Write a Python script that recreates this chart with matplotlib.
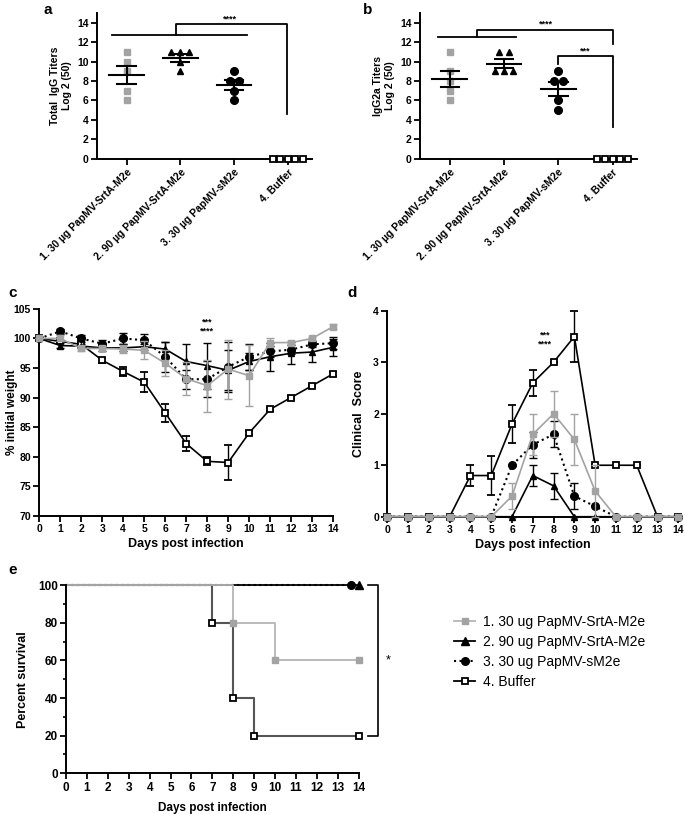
import numpy as np
import matplotlib.pyplot as plt
from matplotlib.lines import Line2D

plt.rcParams['font.family'] = ['Liberation Sans', 'DejaVu Sans']
plt.rcParams['font.weight'] = 'bold'
plt.rcParams['axes.labelweight'] = 'bold'
plt.rcParams['axes.linewidth'] = 1.4

# ---- data ----
groups = ['1. 30 µg PapMV-SrtA-M2e', '2. 90 µg PapMV-SrtA-M2e',
          '3. 30 µg PapMV-sM2e', '4. Buffer']
legend_labels = ['1. 30 ug PapMV-SrtA-M2e', '2. 90 ug PapMV-SrtA-M2e',
                 '3. 30 ug PapMV-sM2e', '4. Buffer']

igg_total = [[11, 10, 9, 7, 6], [11, 11, 11, 10, 9], [9, 8, 8, 7, 6], [0, 0, 0, 0, 0]]
igg2a = [[11, 9, 8, 7, 6], [11, 11, 9, 9, 9], [9, 8, 8, 6, 5], [0, 0, 0, 0, 0]]

days = np.arange(15)
weight_g1 = [100, 100, 98.3, 98.3, 98.2, 98.0, 95.8, 93.2, 92.0, 94.8, 93.7, 99.3, 99.3, 100.0, 102.0]
weight_g1_err = [0, 0.5, 0.4, 0.4, 0.7, 1.5, 2.2, 2.8, 4.4, 5.0, 5.2, 0.8, 0.3, 0.3, 0.4]
weight_g2 = [100, 98.8, 98.7, 98.4, 98.4, 98.6, 98.2, 96.1, 95.4, 94.6, 96.1, 96.9, 97.5, 97.7, 98.5]
weight_g2_err = [0, 0.4, 0.4, 0.6, 0.6, 0.5, 1.2, 3.0, 3.9, 3.4, 1.5, 2.4, 1.9, 1.7, 1.4]
weight_g3 = [100, 101.2, 100.0, 99.1, 100.0, 99.7, 96.9, 93.1, 93.1, 95.2, 96.9, 97.8, 98.1, 99.0, 99.2]
weight_g3_err = [0, 0.4, 0.6, 0.6, 1.0, 1.1, 2.5, 1.6, 3.0, 4.2, 2.2, 1.0, 0.8, 0.5, 1.0]
weight_buf = [100, 99.5, 99.0, 96.3, 94.4, 92.6, 87.4, 82.2, 79.2, 79.0, 84.0, 88.0, 90.0, 92.0, 94.0]
weight_buf_err = [0, 0.3, 0.4, 0.4, 0.8, 1.7, 1.5, 1.3, 0.7, 3.0, 0.3, 0.3, 0.2, 0.2, 0.3]

score_g1 = [0, 0, 0, 0, 0, 0, 0.4, 1.6, 2.0, 1.5, 0.5, 0, 0, 0, 0]
score_g1_err = [0, 0, 0, 0, 0, 0, 0.25, 0.4, 0.45, 0.5, 0.5, 0, 0, 0, 0]
score_g2 = [0, 0, 0, 0, 0, 0, 0, 0.8, 0.6, 0, 0, 0, 0, 0, 0]
score_g2_err = [0, 0, 0, 0, 0, 0, 0, 0.2, 0.25, 0, 0, 0, 0, 0, 0]
score_g3 = [0, 0, 0, 0, 0, 0, 1.0, 1.4, 1.6, 0.4, 0.2, 0, 0, 0, 0]
score_g3_err = [0, 0, 0, 0, 0, 0, 0, 0.25, 0.25, 0.25, 0, 0, 0, 0, 0]
score_buf = [0, 0, 0, 0, 0.8, 0.8, 1.8, 2.6, 3.0, 3.5, 1.0, 1.0, 1.0, 0, 0]
score_buf_err = [0, 0, 0, 0, 0.2, 0.38, 0.37, 0.25, 0, 0.5, 0, 0, 0, 0, 0]

surv_t_g1 = [0, 8, 10, 14]
surv_g1 = [100, 80, 60, 60]
surv_t_g2 = [0, 14]
surv_g2 = [100, 100]
surv_t_g3 = [0, 13.65]
surv_g3 = [100, 100]
surv_t_buf = [0, 7, 8, 9, 14]
surv_buf = [100, 80, 40, 20, 20]

GRAY = '#a3a3a3'
DARK = '#555555'

fig = plt.figure(figsize=(6.85, 8.14), dpi=100)


def style(ax, fs=7.5):
    ax.spines['top'].set_visible(False)
    ax.spines['right'].set_visible(False)
    ax.tick_params(direction='out', length=4, width=1.3, labelsize=fs, pad=2)


def spread(vals, step=0.17):
    vals = np.array(vals, dtype=float)
    off = np.zeros(len(vals))
    for v in np.unique(vals):
        idx = np.where(vals == v)[0]
        off[idx] = (np.arange(len(idx)) - (len(idx) - 1) / 2) * step
    return off


mstyles = [dict(marker='s', color=GRAY, mfc=GRAY, mec=GRAY, ms=5),
           dict(marker='^', color='black', mfc='black', mec='black', ms=5),
           dict(marker='o', color='black', mfc='black', mec='black', ms=5.5),
           dict(marker='s', color='black', mfc='white', mec='black', ms=5, mew=1.3)]


def dotplot(ax, data, ylabel):
    for i, vals in enumerate(data):
        step = 0.14 if i == 3 else 0.17
        x = i + spread(vals, step)
        ax.plot(x, vals, ls='none', clip_on=False, zorder=3, **mstyles[i])
        v = np.array(vals, dtype=float)
        m = v.mean()
        if v.std() > 0:
            sem = v.std(ddof=1) / np.sqrt(len(v))
            ax.plot([i - 0.32, i + 0.32], [m, m], color='black', lw=1.5, zorder=4)
            ax.plot([i, i], [m - sem, m + sem], color='black', lw=1.5, zorder=4)
            for y in (m - sem, m + sem):
                ax.plot([i - 0.17, i + 0.17], [y, y], color='black', lw=1.5, zorder=4)
    ax.set_xlim(-0.55, 3.45)
    ax.set_ylim(0, 15)
    ax.set_yticks(range(0, 15, 2))
    ax.set_xticks(range(4))
    ax.set_xticklabels(groups, rotation=45, ha='right', rotation_mode='anchor')
    ax.set_ylabel(ylabel, fontsize=7.5, labelpad=4)
    style(ax)
    ax.spines['left'].set_bounds(0, 15)


# ---- panel a ----
ax_a = fig.add_axes([0.1416, 0.805, 0.314, 0.179])
dotplot(ax_a, igg_total, 'Total  IgG Titers\nLog 2 (50)')
ax_a.plot([-0.28, 2.24], [12.7, 12.7], color='black', lw=1.3)
ax_a.plot([0.92, 0.92, 2.98, 2.98], [12.7, 13.85, 13.85, 4.65], color='black', lw=1.3)
ax_a.text(1.93, 13.95, '****', ha='center', va='bottom', fontsize=6.5)

# ---- panel b ----
ax_b = fig.add_axes([0.613, 0.805, 0.317, 0.179])
dotplot(ax_b, igg2a, 'IgG2a Titers\nLog 2 (50)')
ax_b.plot([-0.22, 1.22], [12.5, 12.5], color='black', lw=1.3)
ax_b.plot([0.5, 0.5, 3.0, 3.0], [12.5, 13.28, 13.28, 11.85], color='black', lw=1.3)
ax_b.text(1.77, 13.4, '****', ha='center', va='bottom', fontsize=6.5)
ax_b.plot([2.0, 2.0, 3.0, 3.0], [9.8, 10.55, 10.55, 3.25], color='black', lw=1.3)
ax_b.text(2.5, 10.65, '***', ha='center', va='bottom', fontsize=6.5)

fig.text(43 / 685, 1 - 10 / 814, 'a', fontsize=11, ha='left', va='center')
fig.text(363 / 685, 1 - 10 / 814, 'b', fontsize=11, ha='left', va='center')


def series(ax, y, err, i, ls='-', lw=1.2):
    st = dict(mstyles[i])
    col = GRAY if i == 0 else 'black'
    ax.errorbar(days, y, yerr=err, ls=ls, lw=lw, color=col, ecolor=col,
                elinewidth=1.0, capsize=3, capthick=1.0,
                marker=st['marker'], ms=st['ms'], mfc=st['mfc'], mec=st['mec'],
                mew=st.get('mew', 1.0), clip_on=False, zorder=3 + (i == 0))


# ---- panel c ----
ax_c = fig.add_axes([0.0574, 0.3665, 0.4288, 0.254])
series(ax_c, weight_buf, weight_buf_err, 3)
series(ax_c, weight_g2, weight_g2_err, 1)
series(ax_c, weight_g3, weight_g3_err, 2, ls=':', lw=1.5)
series(ax_c, weight_g1, weight_g1_err, 0)
ax_c.set_xlim(0, 14)
ax_c.set_ylim(70, 105)
ax_c.set_xticks(days)
ax_c.set_yticks(range(70, 106, 5))
ax_c.set_ylabel('% initial weight', fontsize=8.5)
ax_c.yaxis.set_label_coords(-0.072, 0.5)
ax_c.set_xlabel('Days post infection', fontsize=9, labelpad=3)
ax_c.text(8, 102.75, '***', ha='center', va='center', fontsize=6.5)
ax_c.text(8, 101.3, '****', ha='center', va='center', fontsize=6.5)
style(ax_c)
fig.text(8 / 685, 1 - 293 / 814, 'c', fontsize=11, ha='left', va='center')

# ---- panel d ----
ax_d = fig.add_axes([0.5654, 0.3652, 0.4248, 0.253])
series(ax_d, score_buf, score_buf_err, 3)
series(ax_d, score_g3, score_g3_err, 2, ls=':', lw=1.5)
series(ax_d, score_g2, score_g2_err, 1)
series(ax_d, score_g1, score_g1_err, 0)
ax_d.set_xlim(0, 14)
ax_d.set_ylim(0, 4)
ax_d.set_xticks(days)
ax_d.set_yticks(range(0, 5))
ax_d.set_ylabel('Clinical  Score', fontsize=9, labelpad=6)
ax_d.set_xlabel('Days post infection', fontsize=9, labelpad=3)
ax_d.text(7.6, 3.53, '***', ha='center', va='center', fontsize=6.5)
ax_d.text(7.6, 3.36, '****', ha='center', va='center', fontsize=6.5)
style(ax_d)
fig.text(347 / 685, 1 - 293 / 814, 'd', fontsize=11, ha='left', va='center')

# ---- panel e ----
ax_e = fig.add_axes([0.0964, 0.05, 0.4273, 0.231])
ax_e.step(surv_t_buf, surv_buf, where='post', color=DARK, lw=1.5, clip_on=False)
ax_e.plot(surv_t_buf[1:], surv_buf[1:], ls='none', marker='s', ms=5, mfc='white',
          mec='black', mew=1.3, clip_on=False, zorder=4)
ax_e.step(surv_t_g2, surv_g2, where='post', color='black', lw=1.3, clip_on=False)
ax_e.plot(surv_t_g2[-1:], surv_g2[-1:], ls='none', marker='^', ms=5.5, color='black',
          clip_on=False, zorder=4)
ax_e.step(surv_t_g3, surv_g3, where='post', color='black', lw=1.5, ls=':', clip_on=False)
ax_e.plot(surv_t_g3[-1:], surv_g3[-1:], ls='none', marker='o', ms=5.5, color='black',
          clip_on=False, zorder=4)
ax_e.step(surv_t_g1, surv_g1, where='post', color='#b5b5b5', lw=1.3, clip_on=False)
ax_e.plot(surv_t_g1[1:], surv_g1[1:], ls='none', marker='s', ms=4, color=GRAY,
          clip_on=False, zorder=4)
ax_e.set_xlim(0, 14)
ax_e.set_ylim(0, 100)
ax_e.set_xticks(range(15))
ax_e.set_yticks(range(0, 101, 20))
ax_e.set_yticks(range(10, 100, 20), minor=True)
ax_e.tick_params(which='minor', direction='out', length=2.5, width=1.2)
ax_e.set_ylabel('Percent survival', fontsize=9, labelpad=6)
ax_e.set_xlabel('Days post infection', fontsize=8.5, labelpad=6)
ax_e.plot([14.45, 14.9, 14.9, 14.45], [100, 100, 20, 20], color='black', lw=1.2, clip_on=False)
ax_e.text(15.4, 60, '*', ha='center', va='center', fontsize=9, fontweight='normal')
style(ax_e, fs=8.5)
fig.text(8 / 685, 1 - 570 / 814, 'e', fontsize=11, ha='left', va='center')

handles = [Line2D([], [], color='#b5b5b5', lw=1.3, marker='s', ms=4, mfc=GRAY, mec=GRAY),
           Line2D([], [], color='black', lw=1.3, marker='^', ms=5.5),
           Line2D([], [], color='black', lw=1.5, ls=':', marker='o', ms=5.5),
           Line2D([], [], color='black', lw=1.3, marker='s', ms=5, mfc='white', mew=1.3)]
fig.legend(handles, legend_labels, loc='upper left', bbox_to_anchor=(0.655, 0.251),
           frameon=False, prop=dict(size=10, weight='normal'), handlelength=1.5,
           handletextpad=0.6, labelspacing=0.42, borderaxespad=0)

fig.savefig('out.png', dpi=100)
